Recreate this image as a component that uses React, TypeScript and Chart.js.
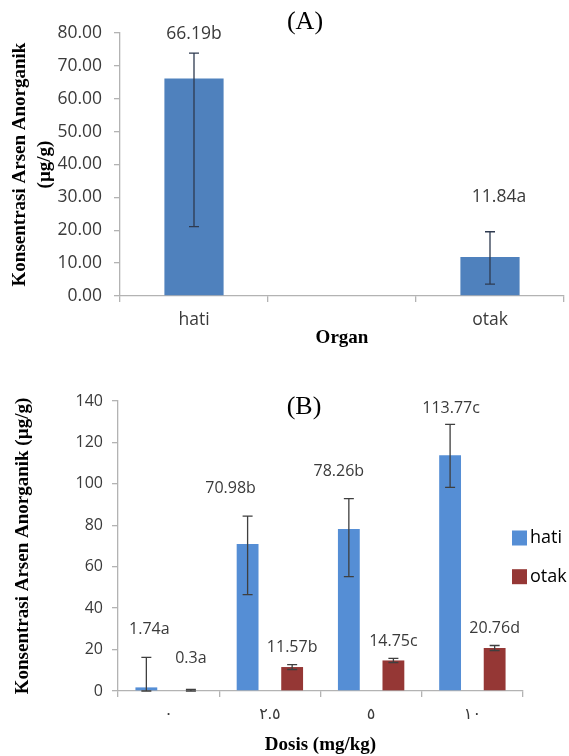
import React, { useEffect, useRef } from "react";
import { Chart, registerables } from "chart.js";

Chart.register(...registerables);

// ---------- Data: panel (A) ----------
const organCategories = ["hati", "", "otak"];
const organValues = [66.19, null, 11.84];
const organErrPlus = [7.7, null, 7.7];
const organErrMinus = [45.1, null, 8.2];
const organLetters = ["b", "", "a"];
const organAxisMax = 80;
const organAxisStep = 10;

// ---------- Data: panel (B) ----------
const doseCategories = ["٠", "٢.٥", "٥", "١٠"];
const hatiValues = [1.74, 70.98, 78.26, 113.77];
const hatiErrPlus = [14.5, 13.4, 14.6, 14.9];
const hatiErrMinus = [1.74, 24.5, 23.0, 15.5];
const hatiLetters = ["a", "b", "b", "c"];
const otakValues = [0.3, 11.57, 14.75, 20.76];
const otakErrPlus = [0.5, 1.2, 1.0, 1.2];
const otakErrMinus = [0.3, 1.2, 1.0, 1.2];
const otakLetters = ["a", "b", "c", "d"];
const doseAxisMax = 140;
const doseAxisStep = 20;

const SANS = "'Open Sans', 'DejaVu Sans', sans-serif";
const SERIF = "'Liberation Serif', 'Times New Roman', serif";
const AXIS = "#b3b3b3";
const TICK = "#3a3a3a";

const errorBarsPlugin = {
  id: "errorBars",
  afterDatasetsDraw(chart: any) {
    const ctx = chart.ctx;
    const yScale = chart.scales.y;
    chart.data.datasets.forEach((ds: any, i: number) => {
      const meta = chart.getDatasetMeta(i);
      meta.data.forEach((el: any, j: number) => {
        const v = ds.data[j];
        if (v === null || v === undefined) return;
        const p = ds.errPlus[j] ?? 0;
        const m = ds.errMinus[j] ?? 0;
        const yT = yScale.getPixelForValue(v + p);
        const yB = yScale.getPixelForValue(Math.max(0, v - m));
        const half = ds.capWidth / 2;
        ctx.save();
        ctx.strokeStyle = ds.errColor;
        ctx.lineWidth = 1.3;
        ctx.beginPath();
        ctx.moveTo(el.x, yT);
        ctx.lineTo(el.x, yB);
        ctx.moveTo(el.x - half, yT);
        ctx.lineTo(el.x + half, yT);
        ctx.moveTo(el.x - half, yB);
        ctx.lineTo(el.x + half, yB);
        ctx.stroke();
        ctx.restore();
      });
    });
  },
};

// Value labels sit above the error bar; small per-label nudges mimic the
// hand-placed labels of the original figure.
const valueLabelsPlugin = {
  id: "valueLabels",
  afterDraw(chart: any, _args: any, opts: any) {
    const ctx = chart.ctx;
    const yScale = chart.scales.y;
    chart.data.datasets.forEach((ds: any, i: number) => {
      const meta = chart.getDatasetMeta(i);
      const nx = (opts.nudgeX && opts.nudgeX[i]) || [];
      const ny = (opts.nudgeY && opts.nudgeY[i]) || [];
      meta.data.forEach((el: any, j: number) => {
        const v = ds.data[j];
        if (v === null || v === undefined) return;
        const p = ds.errPlus[j] ?? 0;
        const y = yScale.getPixelForValue(v + p) - ds.labelOffset + (ny[j] || 0);
        ctx.save();
        ctx.font = `${opts.size}px ${SANS}`;
        ctx.fillStyle = TICK;
        ctx.textAlign = "center";
        ctx.textBaseline = "middle";
        ctx.fillText(String(v) + ds.letters[j], el.x + (nx[j] || 0), y);
        ctx.restore();
      });
    });
  },
};

const panelLabelPlugin = {
  id: "panelLabel",
  afterDraw(chart: any, _args: any, opts: any) {
    const ctx = chart.ctx;
    ctx.save();
    ctx.font = `${opts.size}px ${SERIF}`;
    ctx.fillStyle = "#000";
    ctx.textAlign = "center";
    ctx.textBaseline = "middle";
    ctx.fillText(opts.text, opts.x, opts.y);
    ctx.restore();
  },
};

const sideLegendPlugin = {
  id: "sideLegend",
  afterDraw(chart: any, _args: any, opts: any) {
    if (!opts || !opts.show) return;
    const ctx = chart.ctx;
    chart.data.datasets.forEach((ds: any, i: number) => {
      const cy = opts.y + i * opts.gap;
      ctx.save();
      ctx.fillStyle = ds.backgroundColor;
      ctx.fillRect(opts.x, cy - opts.box / 2, opts.box, opts.box);
      ctx.font = `${opts.size}px ${SANS}`;
      ctx.fillStyle = "#000";
      ctx.textAlign = "left";
      ctx.textBaseline = "middle";
      ctx.fillText(ds.label, opts.x + opts.box + 3, cy);
      ctx.restore();
    });
  },
};

function axisTitleFont(size: number, lh: number) {
  return { family: SERIF, size, weight: "bold" as const, lineHeight: lh };
}

function buildConfigA(): any {
  const tickFont = { family: SANS, size: 17.5 };
  return {
    type: "bar",
    data: {
      labels: organCategories,
      datasets: [
        {
          label: "Organ",
          data: organValues,
          backgroundColor: "#4f81bd",
          categoryPercentage: 0.8,
          barPercentage: 0.5,
          errPlus: organErrPlus,
          errMinus: organErrMinus,
          letters: organLetters,
          errColor: "#2f3b50",
          capWidth: 10,
          labelOffset: 19,
        },
      ],
    },
    options: {
      responsive: false,
      animation: false,
      layout: { padding: { left: 0, top: 33, right: 5, bottom: 0 } },
      plugins: {
        legend: { display: false },
        tooltip: { enabled: false },
        valueLabels: { size: 17.5, nudgeX: [[0, 0, 9]], nudgeY: [[0, 0, -16]] },
        panelLabel: { text: "(A)", x: 305, y: 22, size: 26 },
        sideLegend: { show: false },
      },
      scales: {
        x: {
          offset: true,
          grid: { offset: true, drawOnChartArea: false, drawTicks: true, tickLength: 6, color: AXIS, lineWidth: 1.3 },
          border: { display: true, color: AXIS, width: 1.3 },
          ticks: { color: TICK, font: tickFont, padding: 8, maxRotation: 0 },
          title: { display: true, text: "Organ", color: "#000", font: axisTitleFont(19, 1.2), padding: { top: 0, bottom: 11 } },
          afterFit: (s: any) => { s.height = 64; },
        },
        y: {
          min: 0,
          max: organAxisMax,
          ticks: { stepSize: organAxisStep, color: TICK, font: tickFont, padding: 12, callback: (v: any) => Number(v).toFixed(2) },
          grid: { drawOnChartArea: false, drawTicks: true, tickLength: 6, color: AXIS, lineWidth: 1.3 },
          border: { display: true, color: AXIS, width: 1.3 },
          title: { display: true, text: ["Konsentrasi Arsen Anorganik", "(µg/g)"], color: "#000", font: axisTitleFont(19, 1.3), padding: { top: 7.6, bottom: 0 } },
          afterFit: (s: any) => { s.width = 120; },
        },
      },
    },
    plugins: [errorBarsPlugin, valueLabelsPlugin, panelLabelPlugin, sideLegendPlugin],
  };
}

function buildConfigB(): any {
  const tickFont = { family: SANS, size: 16 };
  return {
    type: "bar",
    data: {
      labels: doseCategories,
      datasets: [
        {
          label: "hati",
          data: hatiValues,
          backgroundColor: "#558ed5",
          categoryPercentage: 0.88,
          barPercentage: 0.49,
          errPlus: hatiErrPlus,
          errMinus: hatiErrMinus,
          letters: hatiLetters,
          errColor: "#3f3f3f",
          capWidth: 10,
          labelOffset: 27.5,
        },
        {
          label: "otak",
          data: otakValues,
          backgroundColor: "#953735",
          categoryPercentage: 0.88,
          barPercentage: 0.49,
          errPlus: otakErrPlus,
          errMinus: otakErrMinus,
          letters: otakLetters,
          errColor: "#3f3f3f",
          capWidth: 10,
          labelOffset: 17,
        },
      ],
    },
    options: {
      responsive: false,
      animation: false,
      layout: { padding: { left: 0, top: 41, right: 46, bottom: 0 } },
      plugins: {
        legend: { display: false },
        tooltip: { enabled: false },
        valueLabels: {
          size: 16,
          nudgeX: [[3, -17, -10, 1], [0, 0, 0, 0]],
          nudgeY: [[0, 0, 0, 11], [-14, 0, 0, 0]],
        },
        panelLabel: { text: "(B)", x: 304, y: 47, size: 26 },
        sideLegend: { show: true, x: 512, y: 178, gap: 38.7, box: 15, size: 18 },
      },
      scales: {
        x: {
          offset: true,
          grid: { offset: true, drawOnChartArea: false, drawTicks: true, tickLength: 6, color: AXIS, lineWidth: 1.3 },
          border: { display: true, color: AXIS, width: 1.3 },
          ticks: { color: TICK, font: tickFont, padding: 8, maxRotation: 0 },
          title: { display: true, text: "Dosis (mg/kg)", color: "#000", font: axisTitleFont(19, 1.2), padding: { top: 0, bottom: 0 } },
          afterFit: (s: any) => { s.height = 65; },
        },
        y: {
          min: 0,
          max: doseAxisMax,
          ticks: { stepSize: doseAxisStep, color: TICK, font: tickFont, padding: 9 },
          grid: { drawOnChartArea: false, drawTicks: true, tickLength: 6, color: AXIS, lineWidth: 1.3 },
          border: { display: true, color: AXIS, width: 1.3 },
          title: { display: true, text: "Konsentrasi Arsen Anorganik (µg/g)", color: "#000", font: axisTitleFont(19, 1.2), padding: { top: 11.6, bottom: 0 } },
          afterFit: (s: any) => { s.width = 118; },
        },
      },
    },
    plugins: [errorBarsPlugin, valueLabelsPlugin, panelLabelPlugin, sideLegendPlugin],
  };
}

export default function App() {
  const refA = useRef<HTMLCanvasElement | null>(null);
  const refB = useRef<HTMLCanvasElement | null>(null);

  useEffect(() => {
    if (!refA.current || !refB.current) return;
    const a = new Chart(refA.current, buildConfigA());
    const b = new Chart(refB.current, buildConfigB());
    return () => {
      a.destroy();
      b.destroy();
    };
  }, []);

  return (
    <div style={{ position: "absolute", left: 0, top: 0, width: 569, height: 756, overflow: "hidden", background: "#fff" }}>
      <canvas ref={refA} width={569} height={360} style={{ position: "absolute", left: 0, top: 0, width: 569, height: 360 }} />
      <canvas ref={refB} width={569} height={396} style={{ position: "absolute", left: 0, top: 360, width: 569, height: 396 }} />
    </div>
  );
}
